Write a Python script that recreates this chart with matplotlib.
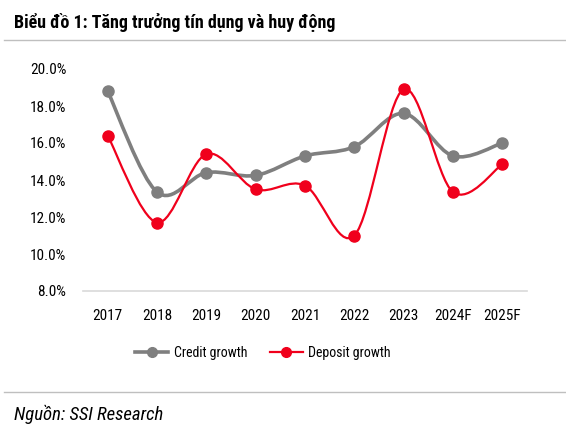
import matplotlib
matplotlib.use("Agg")
import matplotlib.pyplot as plt
import numpy as np
from matplotlib.path import Path
from matplotlib.patches import PathPatch
from matplotlib.lines import Line2D
from matplotlib import font_manager

years = ["2017", "2018", "2019", "2020", "2021", "2022", "2023", "2024F", "2025F"]
credit_growth = [18.8, 13.35, 14.4, 14.25, 15.3, 15.8, 17.6, 15.3, 16.0]
deposit_growth = [16.4, 11.7, 15.4, 13.5, 13.7, 11.0, 18.9, 13.35, 14.85]
y_ticks = [8, 10, 12, 14, 16, 18, 20]

GREY = "#7f7f7f"
RED = "#f0001c"

# arial narrow look-alike, first one installed
names = {f.name for f in font_manager.fontManager.ttflist}
narrow = "DejaVu Sans"
for cand in ["Liberation Sans Narrow", "Roboto Condensed", "Archivo Narrow", "Fira Sans Condensed"]:
    if cand in names:
        narrow = cand
        break
plt.rcParams["font.family"] = [narrow, "DejaVu Sans"]


def smooth_path(xs, ys):
    # excel-style smoothed line: cubic bezier through each point
    pts = np.column_stack([xs, ys]).astype(float)
    ext = np.vstack([pts[0], pts, pts[-1]])
    verts = [pts[0]]
    codes = [Path.MOVETO]
    for i in range(len(pts) - 1):
        p0, p1, p2, p3 = ext[i], ext[i + 1], ext[i + 2], ext[i + 3]
        c1 = p1 + (p2 - p0) / 6
        c2 = p2 - (p3 - p1) / 6
        verts += [c1, c2, p2]
        codes += [Path.CURVE4] * 3
    return Path(verts, codes)


fig = plt.figure(figsize=(5.66, 4.34), dpi=100)
ax = fig.add_axes([83 / 566, 1 - 291 / 434, 444 / 566, 222 / 434])

x = np.arange(len(years))
for vals, color, lw in [(credit_growth, GREY, 2.6), (deposit_growth, RED, 1.6)]:
    ax.add_patch(PathPatch(smooth_path(x, vals), facecolor="none", edgecolor=color,
                           lw=lw, capstyle="round", clip_on=False))
    ax.plot(x, vals, linestyle="none", marker="o", markersize=8, color=color, clip_on=False)

ax.set_xlim(-0.5, len(years) - 0.5)
ax.set_ylim(8, 20)
ax.set_xticks(x)
ax.set_xticklabels(years, fontsize=11)
ax.set_yticks(y_ticks)
ax.set_yticklabels([f"{v:.1f}%" for v in y_ticks], fontsize=11)
ax.tick_params(length=0, pad=12)
ax.tick_params(axis="x", pad=13)
for s in ["top", "right", "left"]:
    ax.spines[s].set_visible(False)
ax.spines["bottom"].set_color("#d9d9d9")
ax.spines["bottom"].set_linewidth(1.2)

handles = [
    Line2D([], [], color=GREY, lw=2.6, marker="o", markersize=7),
    Line2D([], [], color=RED, lw=1.6, marker="o", markersize=7),
]
fig.legend(handles, ["Credit growth", "Deposit growth"], loc="center",
           bbox_to_anchor=(263 / 566, 1 - 353 / 434), ncol=2, frameon=False,
           fontsize=10, handlelength=2.4, handletextpad=0.4, columnspacing=1.6)

fig.text(14 / 566, 1 - 22 / 434, "Biểu đồ 1: Tăng trưởng tín dụng và huy động",
         fontsize=13, fontweight="bold", va="center", ha="left")
fig.add_artist(Line2D([4 / 566, 1], [1 - 40 / 434] * 2, color="#bfbfbf", lw=1))
fig.add_artist(Line2D([4 / 566, 1], [1 - 392 / 434] * 2, color="#bfbfbf", lw=1))
fig.text(14 / 566, 1 - 414 / 434, "Nguồn: SSI Research", fontsize=13.5,
         style="italic", va="center", ha="left")

fig.savefig("out.png", dpi=100)
